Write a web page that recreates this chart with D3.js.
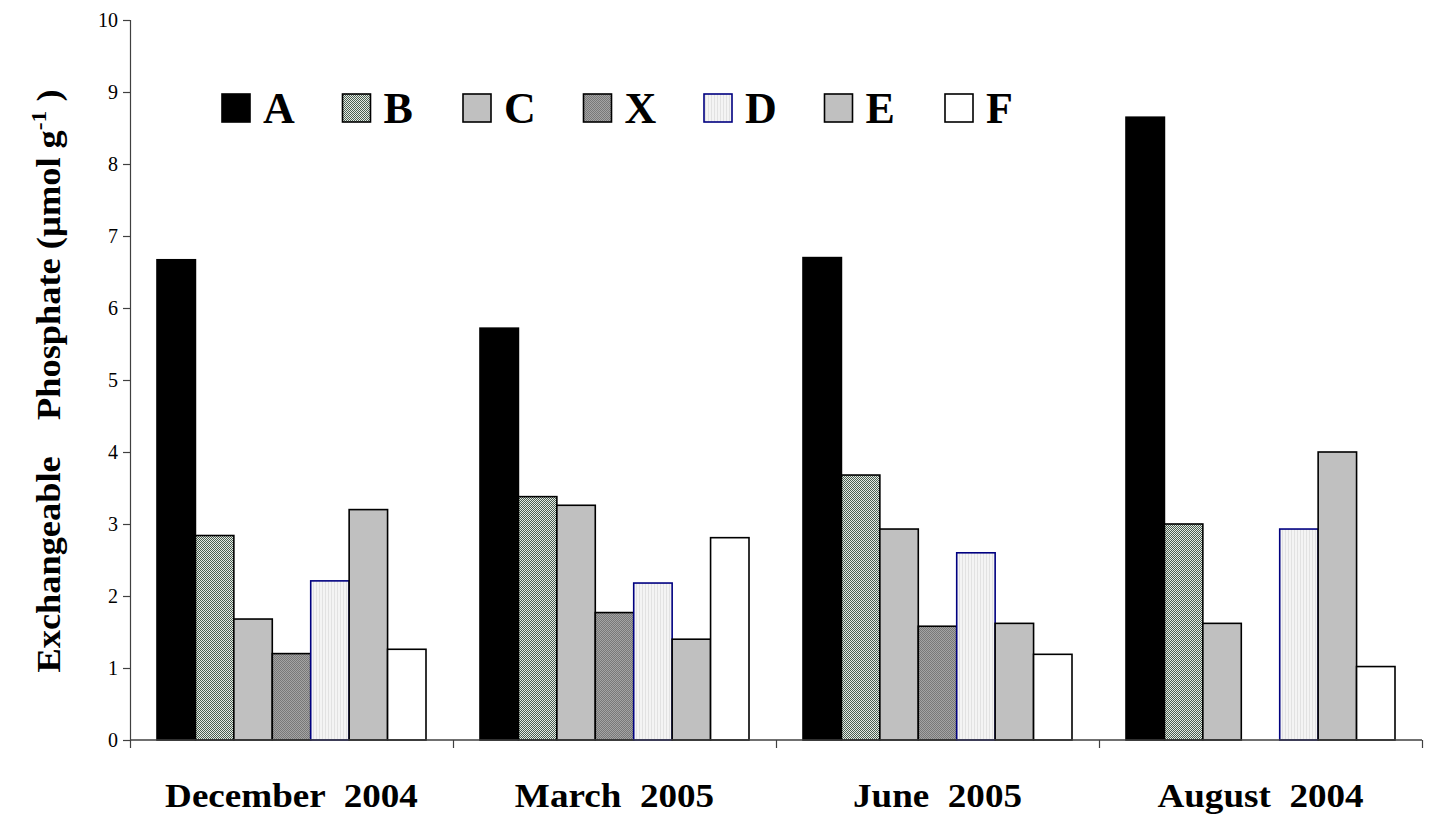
<!DOCTYPE html>
<html><head><meta charset="utf-8">
<script src="https://cdn.jsdelivr.net/npm/d3@7"></script>
<style>body{margin:0;background:#fff}svg{display:block}</style>
</head><body>
<script>
const categories = ["December  2004", "March  2005", "June  2005", "August  2004"];
const seriesNames = ["A", "B", "C", "X", "D", "E", "F"];
const valuesA = [6.67, 5.72, 6.70, 8.65];
const valuesB = [2.84, 3.38, 3.68, 3.00];
const valuesC = [1.68, 3.26, 2.93, 1.62];
const valuesX = [1.20, 1.77, 1.58, null];
const valuesD = [2.21, 2.18, 2.60, 2.93];
const valuesE = [3.20, 1.40, 1.62, 4.00];
const valuesF = [1.26, 2.81, 1.19, 1.02];
const yTicks = [0,1,2,3,4,5,6,7,8,9,10];

const series = [valuesA, valuesB, valuesC, valuesX, valuesD, valuesE, valuesF];
const FONT = "'Liberation Serif', 'Times New Roman', serif";
const W = 1432, H = 820;
const svg = d3.select("body").append("svg").attr("width", W).attr("height", H);
const defs = svg.append("defs");

// patterns
const pB = defs.append("pattern").attr("id","pB").attr("width",2).attr("height",2).attr("patternUnits","userSpaceOnUse");
pB.append("rect").attr("width",2).attr("height",2).attr("fill","#e6eae6");
pB.append("rect").attr("width",1).attr("height",1).attr("fill","#4a5f50");
pB.append("rect").attr("x",1).attr("y",1).attr("width",1).attr("height",1).attr("fill","#4a5f50");
const pX = defs.append("pattern").attr("id","pX").attr("width",2).attr("height",2).attr("patternUnits","userSpaceOnUse");
pX.append("rect").attr("width",2).attr("height",2).attr("fill","#a4a4a4");
pX.append("rect").attr("width",1).attr("height",1).attr("fill","#787878");
pX.append("rect").attr("x",1).attr("y",1).attr("width",1).attr("height",1).attr("fill","#787878");
const pD = defs.append("pattern").attr("id","pD").attr("width",3).attr("height",3).attr("patternUnits","userSpaceOnUse");
pD.append("rect").attr("width",3).attr("height",3).attr("fill","#f4f4f4");
pD.append("rect").attr("width",1).attr("height",3).attr("fill","#e2e2e2");

const fills = ["#000000","url(#pB)","#c0c0c0","url(#pX)","url(#pD)","#c0c0c0","#ffffff"];
const strokes = ["#000000","#000000","#000000","#000000","#000080","#000000","#000000"];

const mLeft = 130, mRight = 1422, mTop = 20, mBottom = 740;
const x0 = d3.scaleBand().domain(categories).range([mLeft, mRight]).paddingInner(0).paddingOuter(0);
const x1 = d3.scaleBand().domain(seriesNames).range([27, x0.bandwidth()-27]).padding(0);
const y = d3.scaleLinear().domain([0,10]).range([mBottom, mTop]);

// bars
categories.forEach((c, ci) => {
  const g = svg.append("g").attr("transform", `translate(${x0(c)},0)`);
  seriesNames.forEach((s, si) => {
    const v = series[si][ci];
    if (v == null) return;
    g.append("rect")
      .attr("x", x1(s)).attr("width", x1.bandwidth())
      .attr("y", y(v)).attr("height", y(0)-y(v))
      .attr("fill", fills[si]).attr("stroke", strokes[si]).attr("stroke-width", 1.6);
  });
});

// y axis
const yAxis = d3.axisLeft(y).tickValues(yTicks).tickSize(7).tickFormat(d3.format("d"));
const ga = svg.append("g").attr("transform", `translate(${mLeft},0)`).call(yAxis);
ga.attr("font-family", FONT);
ga.select(".domain").attr("stroke","#404040").attr("stroke-width",1.2);
ga.selectAll(".tick line").attr("stroke","#404040").attr("stroke-width",1.2);
ga.selectAll(".tick text").attr("font-family",FONT).attr("font-size",20).attr("fill","#000").attr("x",-12);

// x axis
const xb = d3.scaleLinear().domain([0,4]).range([mLeft,mRight]);
const xAxis = d3.axisBottom(xb).tickValues([0,1,2,3,4]).tickSize(8).tickFormat("");
const gx = svg.append("g").attr("transform", `translate(0,${mBottom})`).call(xAxis);
gx.select(".domain").attr("stroke","#404040").attr("stroke-width",1.6).attr("d",`M${mLeft},0H${mRight}`);
gx.selectAll(".tick line").attr("stroke","#404040").attr("stroke-width",1.2);

svg.append("g").selectAll("text").data(categories).join("text")
  .attr("transform", d => `translate(${x0(d) + x0.bandwidth()/2},807) scale(1.125,1)`)
  .attr("text-anchor","middle")
  .attr("font-family",FONT).attr("font-weight","bold").attr("font-size",33)
  .style("white-space","pre")
  .text(d => d);

// y title
const yt = svg.append("text").attr("transform","translate(60,381) rotate(-90) scale(1.07,1)")
  .attr("text-anchor","middle")
  .attr("font-family",FONT).attr("font-weight","bold").attr("font-size",34)
  .style("white-space","pre");
yt.append("tspan").text("Exchangeable    Phosphate (\u00b5mol g");
yt.append("tspan").attr("dy",-14).attr("font-size",22).text("-1");
yt.append("tspan").attr("dy",14).text(" )");

// legend
const lg = svg.append("g");
seriesNames.forEach((s, i) => {
  const lx = 222 + i*120.5;
  lg.append("rect").attr("x", lx).attr("y", 94).attr("width", 28).attr("height", 28)
    .attr("fill", fills[i]).attr("stroke", strokes[i]).attr("stroke-width", 1.6);
  lg.append("text").attr("x", lx + 41).attr("y", 123)
    .attr("font-family",FONT).attr("font-weight","bold").attr("font-size",44)
    .text(s);
});
</script>
</body></html>
